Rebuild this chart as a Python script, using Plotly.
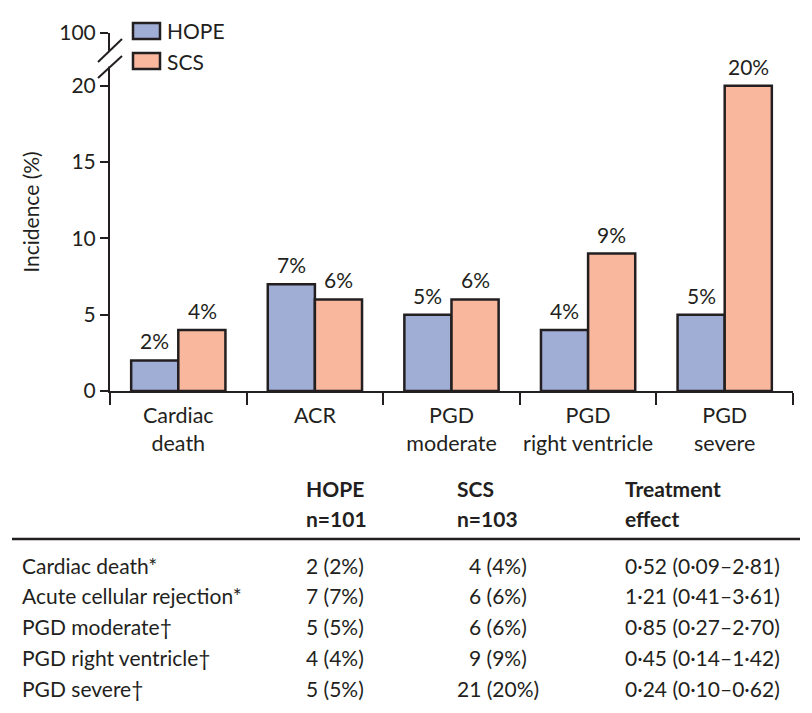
import plotly.graph_objects as go

# ---- data ----
categories = ["Cardiac<br>death", "ACR", "PGD<br>moderate", "PGD<br>right ventricle", "PGD<br>severe"]
hope_pct = [2, 7, 5, 4, 5]
scs_pct = [4, 6, 6, 9, 20]
hope_labels = ["2%", "7%", "5%", "4%", "5%"]
scs_labels = ["4%", "6%", "6%", "9%", "20%"]
y_tickvals = [0, 5, 10, 15, 20, 23.45]
y_ticktext = ["0", "5", "10", "15", "20", "100"]

table_rows = ["Cardiac death*", "Acute cellular rejection*", "PGD moderate\u2020",
              "PGD right ventricle\u2020", "PGD severe\u2020"]
table_hope = ["2 (2%)", "7 (7%)", "5 (5%)", "4 (4%)", "5 (5%)"]
table_scs = ["4 (4%)", "6 (6%)", "6 (6%)", "9 (9%)", "21 (20%)"]
table_effect = ["0\u00b752 (0\u00b709\u20132\u00b781)", "1\u00b721 (0\u00b741\u20133\u00b761)",
                "0\u00b785 (0\u00b727\u20132\u00b770)", "0\u00b745 (0\u00b714\u20131\u00b742)",
                "0\u00b724 (0\u00b710\u20130\u00b762)"]
table_head1 = ["HOPE", "SCS", "Treatment"]
table_head2 = ["n=101", "n=103", "effect"]

# ---- style ----
OFF = 8  # page body margin
W, H = 812 - 2 * OFF, 713 - 2 * OFF
L, T = 110 - OFF, 33 - OFF
R = W - (793 - OFF)
B = H - (391 - OFF)
PW, PH = W - L - R, H - T - B
HOPE_C = "#a0aed6"
SCS_C = "#f9b89d"
INK = "#231f20"
FONT = "Lato"
FS = 21


def px(xp):
    return (xp - OFF - L) / PW


def py(yp):
    return (H - B - (yp - OFF)) / PH


fig = go.Figure()
fig.add_trace(go.Bar(x=categories, y=hope_pct, name="HOPE",
                     marker=dict(color=HOPE_C, line=dict(color=INK, width=2.5))))
fig.add_trace(go.Bar(x=categories, y=scs_pct, name="SCS",
                     marker=dict(color=SCS_C, line=dict(color=INK, width=2.5))))

fig.update_layout(
    width=W, height=H, margin=dict(l=L, r=R, t=T, b=B),
    paper_bgcolor="white", plot_bgcolor="white",
    barmode="group", bargap=0.31, bargroupgap=0,
    showlegend=False,
    font=dict(family=FONT, size=FS, color=INK),
    xaxis=dict(showline=True, linecolor=INK, linewidth=2, ticks="outside", tickson="boundaries",
               ticklen=12, tickwidth=2, tickcolor=INK, showgrid=False, zeroline=False,
               ticklabelstandoff=4, tickangle=0,
               tickfont=dict(size=21.5, color=INK, family=FONT)),
    yaxis=dict(range=[0, 23.45], tickvals=y_tickvals, ticktext=y_ticktext, showline=True, linecolor=INK,
               linewidth=2, ticks="outside", ticklen=8, tickwidth=2, tickcolor=INK, showgrid=False,
               zeroline=False, tickfont=dict(size=FS, color=INK, family=FONT),
               title=dict(text="Incidence (%)", font=dict(size=FS, color=INK, family=FONT), standoff=14)),
)

shapes = []
# axis break
shapes.append(dict(type="rect", xref="paper", yref="y", x0=px(104), x1=px(116), y0=21.25, y1=22.28,
                   fillcolor="white", line=dict(width=0), layer="above"))
shapes.append(dict(type="line", xref="paper", yref="y", x0=px(98), x1=px(122), y0=21.55, y1=23.06,
                   line=dict(color=INK, width=2), layer="above"))
shapes.append(dict(type="line", xref="paper", yref="y", x0=px(98), x1=px(122), y0=20.50, y1=21.94,
                   line=dict(color=INK, width=2), layer="above"))
# legend swatches
shapes.append(dict(type="rect", xref="paper", yref="paper", x0=px(133), x1=px(160), y0=py(39), y1=py(23),
                   fillcolor=HOPE_C, line=dict(color=INK, width=2.5)))
shapes.append(dict(type="rect", xref="paper", yref="paper", x0=px(133), x1=px(160), y0=py(69), y1=py(53),
                   fillcolor=SCS_C, line=dict(color=INK, width=2.5)))
# table rule
shapes.append(dict(type="line", xref="paper", yref="paper", x0=px(12), x1=px(800), y0=py(539), y1=py(539),
                   line=dict(color=INK, width=2.5)))
fig.update_layout(shapes=shapes)

ann = []
# bar value labels
for cat, v, t in zip(categories, hope_pct, hope_labels):
    ann.append(dict(text=t, x=cat, y=v, xref="x", yref="y", xshift=-23.7, yshift=5, yanchor="bottom"))
for cat, v, t in zip(categories, scs_pct, scs_labels):
    ann.append(dict(text=t, x=cat, y=v, xref="x", yref="y", xshift=23.7, yshift=5, yanchor="bottom"))

paper_ann = []
paper_ann.append(dict(text="HOPE", x=px(165), y=py(31), xanchor="left", yanchor="middle"))
paper_ann.append(dict(text="SCS", x=px(165), y=py(61), xanchor="left", yanchor="middle"))
# table header
for h1, h2, xp in zip(table_head1, table_head2, [304, 455, 623]):
    paper_ann.append(dict(text="<b>" + h1 + "</b>", x=px(xp), y=py(488), xanchor="left", yanchor="middle"))
    paper_ann.append(dict(text="<b>" + h2 + "</b>", x=px(xp), y=py(518), xanchor="left", yanchor="middle"))
row_y = [565, 595, 626, 657, 688]
for i, yy in enumerate(row_y):
    paper_ann.append(dict(text=table_rows[i], x=px(20), y=py(yy), xanchor="left", yanchor="middle"))
    paper_ann.append(dict(text=table_hope[i], x=px(304), y=py(yy), xanchor="left", yanchor="middle"))
    paper_ann.append(dict(text=table_scs[i], x=px(498), y=py(yy), xanchor="center", yanchor="middle"))
    paper_ann.append(dict(text=table_effect[i], x=px(623), y=py(yy), xanchor="left", yanchor="middle"))
for a in paper_ann:
    a.update(xref="paper", yref="paper")
ann += paper_ann
for a in ann:
    a.update(showarrow=False, font=dict(size=FS, color=INK, family=FONT))
fig.update_layout(annotations=ann)

fig.write_html("out.html")
